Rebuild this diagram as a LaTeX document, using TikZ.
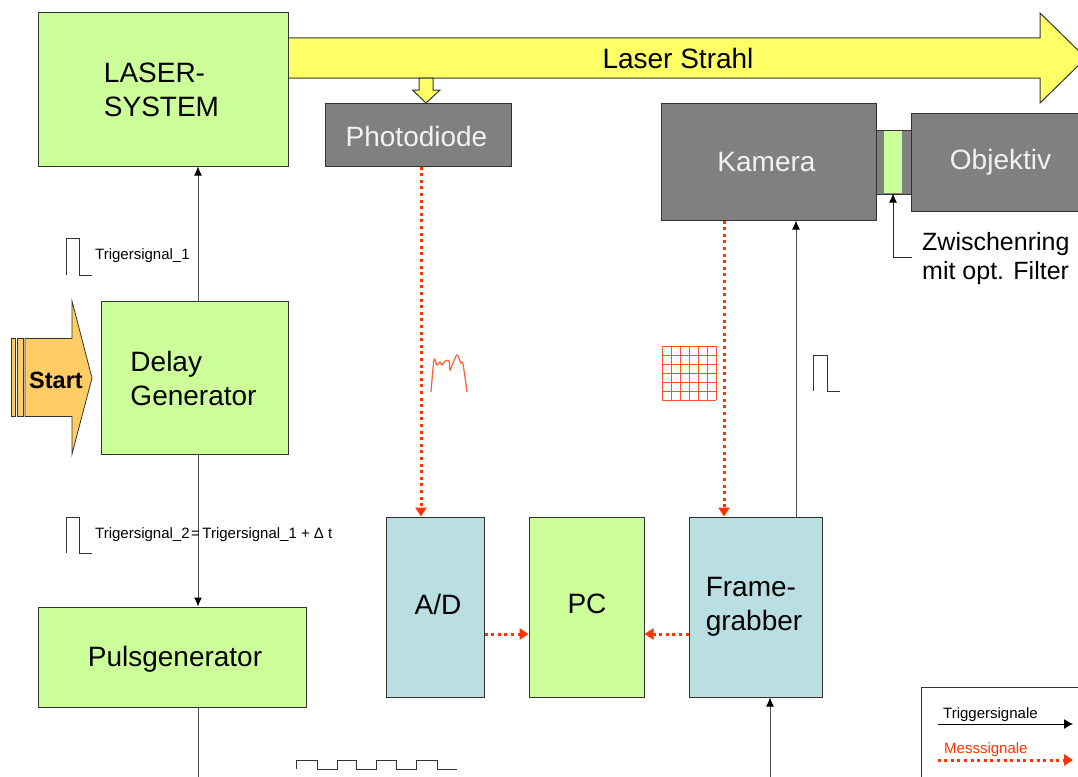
\documentclass[tikz,border=0pt]{standalone}
\usepackage{fontspec}
\setmainfont{Liberation Sans}
\usetikzlibrary{arrows.meta, positioning}
\definecolor{boxgreen}{HTML}{CCFF99}
\definecolor{boxblue}{HTML}{B9DFE3}
\definecolor{boxgrey}{HTML}{808080}
\definecolor{beamyellow}{HTML}{FFFF66}
\definecolor{startorange}{HTML}{FFCC66}
\definecolor{messred}{HTML}{FF3300}
\definecolor{edgegrey}{HTML}{333333}
\begin{document}
\begin{tikzpicture}[
    x=1pt,y=-1pt,
    block/.style={draw=edgegrey,line width=1pt,inner sep=0pt,align=left,
        font=\fontsize{28}{34}\selectfont},
    greenbox/.style={block,fill=boxgreen},
    bluebox/.style={block,fill=boxblue},
    greybox/.style={block,fill=boxgrey},
    bigtext/.style={inner sep=0pt,align=left,font=\fontsize{28}{34}\selectfont},
    greytext/.style={bigtext,text=white!95!black},
    smalltext/.style={inner sep=0pt,anchor=west,font=\fontsize{15}{18}\selectfont},
    trigsig/.style={draw=black!70,line width=1pt,-{Latex[length=9pt,width=8pt,black]}},
    messsig/.style={draw=messred,line width=3pt,dash pattern=on 3pt off 3.6pt,
        -{Triangle[length=9pt,width=11pt]}},
    pulse/.style={draw=black!80,line width=1pt},
    shapeline/.style={draw=edgegrey,line width=1pt}]
    \useasboundingbox (0,0) rectangle (1078,776);
    \clip (0,0) rectangle (1078,776);

    % laser beam
    \draw[shapeline,fill=beamyellow] (288,38) -- (1040,38) -- (1040,13) -- (1086,58)
        -- (1040,103) -- (1040,78) -- (288,78) -- cycle;
    \node (strahl) [bigtext] at (678,58.5) {Laser Strahl};
    \draw[shapeline,fill=beamyellow] (419,78) -- (433,78) -- (433,90) -- (440,90) -- (426,103)
        -- (412.5,90) -- (419,90) -- cycle;

    % start arrow
    \draw[shapeline,line width=.8pt,fill=startorange] (11,338.5) rectangle (15,416.5);
    \draw[shapeline,line width=.8pt,fill=startorange] (17,338.5) rectangle (23,416.5);
    \draw[shapeline,line width=.8pt,fill=startorange] (25,338.5) -- (72,338.5) -- (72,301) -- (92,378)
        -- (72,454) -- (72,416.5) -- (25,416.5) -- cycle;
    \node (start) [inner sep=0pt,font=\fontsize{23.5}{28}\selectfont\bfseries] at (56,380) {Start};

    % blocks
    \node (laser) [greenbox,minimum width=250pt,minimum height=153pt] at (163,89.5) {};
    \node (lasertext) [bigtext] at (161.5,89.5) {LASER-\\SYSTEM};
    \node (delay) [greenbox,minimum width=187pt,minimum height=153pt] at (194.5,377.5) {};
    \node (delaytext) [bigtext] at (193.5,378) {Delay\\Generator};
    \node (pulsgen) [greenbox,minimum width=268pt,minimum height=100pt] at (172,657) {};
    \node (pulstext) [bigtext] at (175,659) {Pulsgenerator};
    \node (photo) [greybox,minimum width=186pt,minimum height=63pt] at (418,134.5) {};
    \node (phototext) [greytext] at (416.5,136) {Photodiode};
    \node (kamera) [greybox,minimum width=215pt,minimum height=117pt] at (768.5,161.5) {};
    \node (kameratext) [greytext] at (766.5,162.5) {Kamera};
    \node (ring) [greybox,minimum width=35pt,minimum height=64pt] at (893.5,162) {};
    \node (filter) [greenbox,draw=none,minimum width=18pt,minimum height=62pt] at (893,162) {};
    \node (objektiv) [block,fill=boxgrey,minimum width=190pt,minimum height=98pt,anchor=west] at (911,162) {};
    \node (objtext) [greytext] at (1000.5,162.5) {Objektiv};
    \node (ad) [bluebox,minimum width=98pt,minimum height=180pt] at (435,607) {};
    \node (adtext) [bigtext] at (438,604) {A/D};
    \node (pc) [greenbox,minimum width=115pt,minimum height=180pt] at (586.5,607) {};
    \node (pctext) [bigtext] at (587,604) {PC};
    \node (grabber) [bluebox,minimum width=133pt,minimum height=180pt] at (755.5,607) {};
    \node (grabtext) [bigtext] at (754,607) {Frame-\\grabber};

    % trigger lines
    \draw[trigsig] ([xshift=3.5pt]delay.north) -- ([xshift=35pt]laser.south);
    \draw[trigsig] ([xshift=3.5pt]delay.south) -- ([xshift=26pt]pulsgen.north);
    \draw[draw=black!70,line width=1pt] ([xshift=26pt]pulsgen.south) -- ++(0,70);
    \draw[trigsig] ([xshift=40.5pt]grabber.north) -- ([xshift=27.5pt]kamera.south);
    \coordinate (bottomin) at (770,780);
    \draw[trigsig] (bottomin) -- (bottomin |- grabber.south);

    % measurement lines
    \draw[messsig] ([xshift=3pt]photo.south) -- ([xshift=-14pt]ad.north);
    \draw[messsig] ([xshift=-44.5pt]kamera.south) -- ([xshift=-31.5pt]grabber.north);
    \draw[messsig] ([yshift=-27pt]ad.east) -- ([yshift=-27pt]pc.west);
    \draw[messsig] ([yshift=-27pt]grabber.west) -- ([yshift=-27pt]pc.east);

    % filter ring label
    \node (zwischen) [inner sep=0pt,anchor=west,align=left,
        font=\fontsize{25}{29}\selectfont] at (922,259) {Zwischenring\\mit opt. Filter};
    \coordinate (ringknee) at (912,257.5);
    \draw[trigsig,draw=black!85] (ringknee) -| (filter.south);

    % pulses
    \draw[pulse] (66,275) -- (66,238) -- (79,238) -- (79,275) -- (92,275);
    \draw[pulse] (66,553) -- (66,517.5) -- (79,517.5) -- (79,553) -- (92,553);
    \draw[pulse] (813,391) -- (813,355) -- (827,355) -- (827,391) -- (840,391);
    \draw[pulse] (296,769) -- (296,760) -- (317,760) -- (317,769) -- (337,769) -- (337,760) -- (356,760)
        -- (356,769) -- (376,769) -- (376,760) -- (396,760) -- (396,769) -- (416,769) -- (416,760)
        -- (437,760) -- (437,769) -- (457,769);
    \node (sig1) [smalltext] at (95,256) {Trigersignal\_1};
    \node (sig2) [smalltext] at (95,534.5) {Trigersignal\_2\hspace{1.5pt}=\hspace{2.5pt}Trigersignal\_1 + Δ t};

    % profile and pixel grid
    \draw[messred!80,line width=1.2pt] plot[smooth,tension=.5] coordinates {(431,392) (434,360) (437,365)
        (440,362) (442,365) (445,361) (449,361) (450,370) (453,363) (457,355) (461,363) (463,364) (467,392)};
    \foreach \i in {0,...,6} {
        \draw[messred!85,line width=1pt] (662+9*\i,346) -- (662+9*\i,400);
        \draw[messred!85,line width=1pt] (662,346+9*\i) -- (716,346+9*\i);
    }

    % legend
    \node (legend) [draw=edgegrey,line width=1pt,anchor=north west,minimum width=200pt,
        minimum height=120pt] at (920.5,687) {};
    \node (trigleg) [smalltext] at (943,714.5) {Triggersignale};
    \node (messleg) [smalltext,text=messred] at (944,750) {Messsignale};
    \coordinate (trigfrom) at (937.5,724);
    \coordinate (trigto) at (1073,724);
    \coordinate (messfrom) at (937.5,760);
    \coordinate (messto) at (1073,760);
    \draw[trigsig,draw=black,-{Latex[length=9pt,width=10pt]}] (trigfrom) -- (trigto);
    \draw[messsig] (messfrom) -- (messto);

\end{tikzpicture}
\end{document}
